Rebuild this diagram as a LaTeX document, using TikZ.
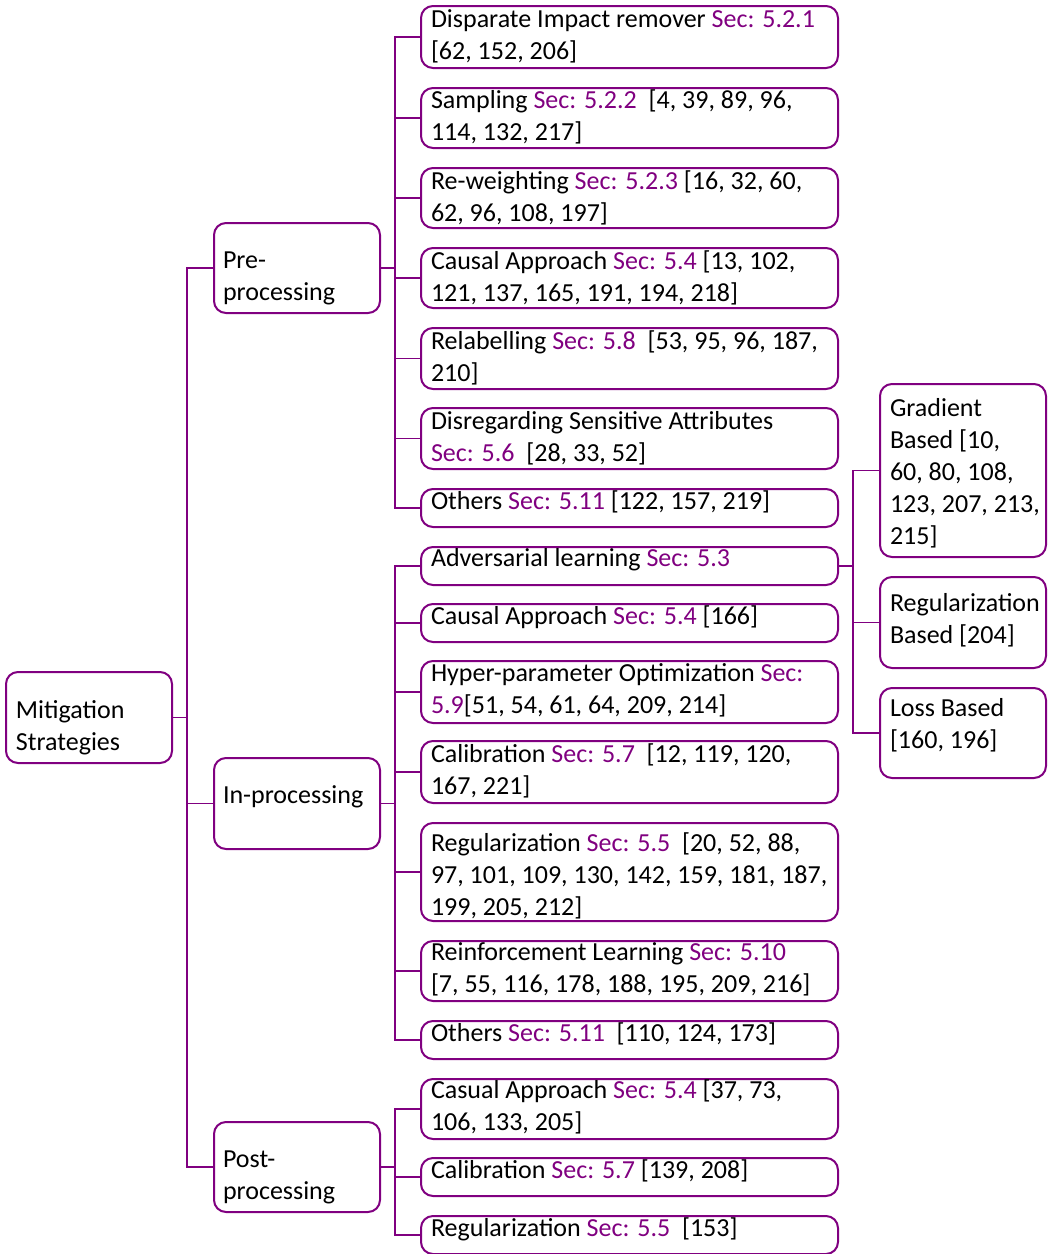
\documentclass[tikz,border=0pt]{standalone}
\usepackage{fontspec}
\setmainfont{Carlito}
\definecolor{mypurple}{RGB}{128,0,128}
\newcommand\sref[1]{\textcolor{mypurple}{Sec: #1}}
\newcommand\pc[1]{\textcolor{mypurple}{#1}}
\tikzset{
  bx/.style={draw=mypurple, line width=2pt, rounded corners=12pt, inner ysep=0pt,
    inner xsep=10pt, anchor=north west, font=\fontsize{26}{32}\selectfont},
  leafbox/.style={bx, minimum width=417pt},
  sidebox/.style={bx, minimum width=166pt},
  lvbox/.style={bx, minimum width=166pt, inner xsep=9pt},
  conn/.style={draw=mypurple, line width=1.5pt},
}
\newcommand\lt[1]{\parbox[t]{397pt}{#1}}
\newcommand\st[1]{\parbox[t]{146pt}{#1}}
\newcommand\vt[1]{\parbox[t]{148pt}{#1}}
\begin{document}
\begin{tikzpicture}[x=1pt,y=-1pt]
\useasboundingbox (0,0) rectangle (1053,1254);
% root and level 1
\node[sidebox, text height=46.5pt, text depth=44.5pt] (root) at (5,671) {\st{\mbox{Mitigation}\\\mbox{Strategies}}};
\node[lvbox, text height=45.5pt, text depth=44.5pt] (pre) at (213,222) {\vt{\mbox{Pre-}\\\mbox{processing}}};
\node[lvbox, text height=45.5pt, text depth=45.5pt] (in) at (213,757) {\vt{\mbox{In-processing}}};
\node[lvbox, text height=45.5pt, text depth=44.5pt] (post) at (213,1121) {\vt{\mbox{Post-}\\\mbox{processing}}};
% pre-processing leaves
\node[leafbox, text height=21.5pt, text depth=40.5pt] (p1) at (420,5) {\lt{\mbox{Disparate Impact remover \sref{5.2.1}}\\\mbox{[62, 152, 206]}}};
\node[leafbox, text height=20.5pt, text depth=39.5pt] (p2) at (420,87) {\lt{\mbox{Sampling \sref{5.2.2}~ [4, 39, 89, 96,}\\\mbox{114, 132, 217]}}};
\node[leafbox, text height=21.5pt, text depth=38.5pt] (p3) at (420,167) {\lt{\mbox{Re-weighting \sref{5.2.3} [16, 32, 60,}\\\mbox{62, 96, 108, 197]}}};
\node[leafbox, text height=21.5pt, text depth=38.5pt] (p4) at (420,247) {\lt{\mbox{Causal Approach \sref{5.4} [13, 102,}\\\mbox{121, 137, 165, 191, 194, 218]}}};
\node[leafbox, text height=21.5pt, text depth=39.5pt] (p5) at (420,327) {\lt{\mbox{Relabelling \sref{5.8}~ [53, 95, 96, 187,}\\\mbox{210]}}};
\node[leafbox, text height=21.5pt, text depth=39.5pt] (p6) at (420,407) {\lt{\mbox{Disregarding Sensitive Attributes}\\\mbox{\sref{5.6}~ [28, 33, 52]}}};
\node[leafbox, text height=20.5pt, text depth=17.5pt] (p7) at (420,488) {\lt{\mbox{Others \sref{5.11} [122, 157, 219]}}};
% in-processing leaves
\node[leafbox, text height=19.5pt, text depth=18.5pt] (i1) at (420,546) {\lt{\mbox{Adversarial learning \sref{5.3}}}};
\node[leafbox, text height=20.5pt, text depth=17.5pt] (i2) at (420,603) {\lt{\mbox{Causal Approach \sref{5.4} [166]}}};
\node[leafbox, text height=20.5pt, text depth=41.5pt] (i3) at (420,660) {\lt{\mbox{Hyper-parameter Optimization \pc{Sec:}}\\\mbox{\pc{5.9}[51, 54, 61, 64, 209, 214]}}};
\node[leafbox, text height=21.5pt, text depth=40.5pt] (i4) at (420,740) {\lt{\mbox{Calibration \sref{5.7}~ [12, 119, 120,}\\\mbox{167, 221]}}};
\node[leafbox, text height=28.5pt, text depth=69.5pt] (i5) at (420,822) {\lt{\mbox{Regularization \sref{5.5}~ [20, 52, 88,}\\\mbox{97, 101, 109, 130, 142, 159, 181, 187,}\\\mbox{199, 205, 212]}}};
\node[leafbox, text height=19.5pt, text depth=40.5pt] (i6) at (420,940) {\lt{\mbox{Reinforcement Learning \sref{5.10}}\\\mbox{[7, 55, 116, 178, 188, 195, 209, 216]}}};
\node[leafbox, text height=20.5pt, text depth=17.5pt] (i7) at (420,1020) {\lt{\mbox{Others \sref{5.11}~ [110, 124, 173]}}};
% post-processing leaves
\node[leafbox, text height=19.5pt, text depth=40.5pt] (q1) at (420,1078) {\lt{\mbox{Casual Approach \sref{5.4} [37, 73,}\\\mbox{106, 133, 205]}}};
\node[leafbox, text height=20.5pt, text depth=17.5pt] (q2) at (420,1157) {\lt{\mbox{Calibration \sref{5.7} [139, 208]}}};
\node[leafbox, text height=20.5pt, text depth=17.5pt] (q3) at (420,1215) {\lt{\mbox{Regularization \sref{5.5}~ [153]}}};
% adversarial sub-boxes
\node[sidebox, text height=32.5pt, text depth=140.5pt] (r1) at (879,383) {\st{\mbox{Gradient}\\\mbox{Based [10,}\\\mbox{60, 80, 108,}\\\mbox{123, 207, 213,}\\\mbox{215]}}};
\node[sidebox, text height=34.5pt, text depth=56.5pt] (r2) at (879,576) {\st{\mbox{Regularization}\\\mbox{Based [204]}}};
\node[sidebox, text height=28.5pt, text depth=61.5pt] (r3) at (879,687) {\st{\mbox{Loss Based}\\\mbox{[160, 196]}}};
% connectors
\foreach \c in {pre,in,post} \draw[conn] (root.east) -- ++(14,0) |- (\c.west);
\foreach \c in {p1,p2,p3,p4,p5,p6,p7} \draw[conn] (pre.east) -- ++(14,0) |- (\c.west);
\foreach \c in {i1,i2,i3,i4,i5,i6,i7} \draw[conn] (in.east) -- ++(14,0) |- (\c.west);
\foreach \c in {q1,q2,q3} \draw[conn] (post.east) -- ++(14,0) |- (\c.west);
\foreach \c in {r1,r2,r3} \draw[conn] (i1.east) -- ++(14,0) |- (\c.west);
\end{tikzpicture}
\end{document}
